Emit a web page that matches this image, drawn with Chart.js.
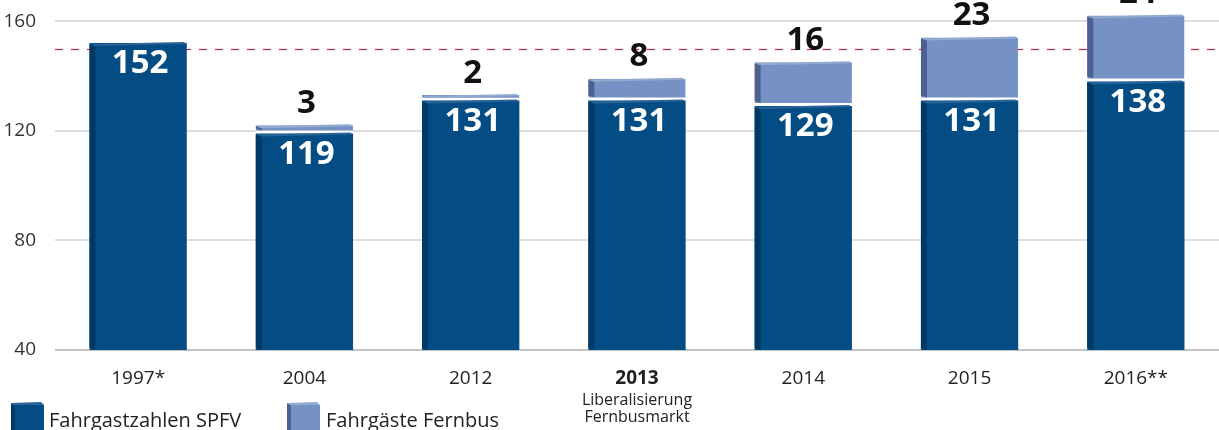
<!DOCTYPE html>
<html>
<head>
<meta charset="utf-8">
<script src="https://cdn.jsdelivr.net/npm/chart.js@4/dist/chart.umd.min.js"></script>
<style>
  html, body { margin: 0; padding: 0; background: #fff; }
  #wrap { width: 1219px; height: 430px; }
</style>
</head>
<body>
<div id="wrap"><canvas id="chart" width="1219" height="430"></canvas></div>
<script>
// ——— data ———
const years = ["1997*", "2004", "2012", "2013", "2014", "2015", "2016**"];
const spfv = [152, 119, 131, 131, 129, 131, 138];      // Fahrgastzahlen SPFV
const fernbus = [null, 3, 2, 8, 16, 23, 24];           // Fahrgäste Fernbus
const yTicks = [40, 80, 120, 160];
const refLine = 150;
const noteIndex = 3;
const noteLines = ["Liberalisierung", "Fernbusmarkt"];

const FONT = "'Open Sans', 'DejaVu Sans', sans-serif";
const navy = { front: "#044d84", side: "#003866", top: "#2a6398" };
const blue = { front: "#7691c3", side: "#4d6190", top: "#93a9d2" };

// dashed reference line behind the bars
const refLinePlugin = {
  id: "refLine",
  beforeDatasetsDraw(chart) {
    const { ctx, chartArea } = chart;
    const y = Math.round(chart.scales.y.getPixelForValue(refLine));
    ctx.save();
    ctx.strokeStyle = "#c02a40";
    ctx.lineWidth = 1.2;
    ctx.setLineDash([8, 8]);
    ctx.beginPath();
    ctx.moveTo(chartArea.left, y + 0.5);
    ctx.lineTo(chartArea.right, y + 0.5);
    ctx.stroke();
    ctx.restore();
  }
};

// fake 3D: darker left face + lighter top edge, then value labels
const barDeco = {
  id: "barDeco",
  afterDatasetsDraw(chart) {
    const ctx = chart.ctx;
    const floor = chart.chartArea.bottom;
    chart.data.datasets.forEach((ds, di) => {
      const meta = chart.getDatasetMeta(di);
      const col = di === 0 ? navy : blue;
      meta.data.forEach((bar, i) => {
        if (ds.data[i] == null) return;
        const { x, y, base, width } = bar.getProps(["x", "y", "base", "width"], true);
        const left = x - width / 2, right = x + width / 2;
        const bottom = di === 1 ? base - 3 : Math.min(base, floor);
        ctx.save();
        ctx.fillStyle = col.side;
        ctx.beginPath();
        ctx.moveTo(left, y + 1);
        ctx.lineTo(left + 6, y + 3);
        ctx.lineTo(left + 6, bottom);
        ctx.lineTo(left, bottom - 2);
        ctx.closePath();
        ctx.fill();
        ctx.fillStyle = col.top;
        ctx.beginPath();
        ctx.moveTo(left, y + 1);
        ctx.lineTo(right - 3, y - 1);
        ctx.lineTo(right, y + 1);
        ctx.lineTo(left + 6, y + 3);
        ctx.closePath();
        ctx.fill();

        ctx.font = "bold 33px " + FONT;
        ctx.textAlign = "center";
        ctx.textBaseline = "middle";
        if (di === 0) {
          ctx.fillStyle = "#fff";
          ctx.fillText(ds.data[i], x + 2, y + 21);
        } else {
          ctx.fillStyle = "#111";
          ctx.fillText(ds.data[i], x + 2, y - 22);
        }
        ctx.restore();
      });
    });
  }
};

// note under 2013 + legend with little cubes
function cube(ctx, x, y, w, h, col) {
  ctx.fillStyle = col.front;
  ctx.fillRect(x + 4, y + 3, w - 4, h);
  ctx.fillStyle = col.side;
  ctx.beginPath();
  ctx.moveTo(x, y + 1); ctx.lineTo(x + 4, y + 3); ctx.lineTo(x + 4, y + h + 3); ctx.lineTo(x, y + h);
  ctx.closePath(); ctx.fill();
  ctx.fillStyle = col.top;
  ctx.beginPath();
  ctx.moveTo(x, y + 1); ctx.lineTo(x + w - 3, y); ctx.lineTo(x + w, y + 3); ctx.lineTo(x + 4, y + 3);
  ctx.closePath(); ctx.fill();
}

const extras = {
  id: "extras",
  afterDraw(chart) {
    const ctx = chart.ctx;
    const xs = chart.scales.x;
    const cx = xs.getPixelForValue(noteIndex);
    ctx.save();
    ctx.fillStyle = "#222";
    ctx.font = "16px " + FONT;
    ctx.textAlign = "center";
    ctx.textBaseline = "middle";
    noteLines.forEach((t, k) => ctx.fillText(t, cx, 400 + k * 17));

    cube(ctx, 11, 402, 33, 30, navy);
    cube(ctx, 287, 402, 33, 30, blue);
    ctx.fillStyle = "#222";
    ctx.font = "20px " + FONT;
    ctx.textAlign = "left";
    ctx.textBaseline = "alphabetic";
    ctx.fillText("Fahrgastzahlen SPFV", 49, 427);
    ctx.fillText("Fahrgäste Fernbus", 326, 427);
    ctx.restore();
  }
};

new Chart(document.getElementById("chart"), {
  type: "bar",
  data: {
    labels: years,
    datasets: [
      {
        label: "Fahrgastzahlen SPFV",
        data: spfv,
        backgroundColor: navy.front,
        borderWidth: 0
      },
      {
        label: "Fahrgäste Fernbus",
        data: fernbus,
        backgroundColor: blue.front,
        borderColor: "#fff",
        borderWidth: { top: 0, left: 0, right: 0, bottom: 3 },
        borderSkipped: false
      }
    ]
  },
  options: {
    responsive: false,
    animation: false,
    layout: { padding: 0 },
    datasets: { bar: { barPercentage: 0.585, categoryPercentage: 1 } },
    plugins: { legend: { display: false }, tooltip: { enabled: false } },
    scales: {
      x: {
        stacked: true,
        grid: { display: false, drawTicks: false },
        border: { display: false },
        ticks: {
          color: "#222",
          padding: 17,
          maxRotation: 0,
          font: ctx => ({ family: FONT, size: 19, weight: ctx.index === noteIndex ? "bold" : "normal" })
        },
        afterFit: s => { s.height = 80; s.paddingLeft = 0; s.paddingRight = 0; }
      },
      y: {
        stacked: true,
        min: 40,
        max: 167.7,
        grid: {
          color: ctx => ctx.tick && ctx.tick.value === 40 ? "#c4c4c4" : "#dedede",
          lineWidth: 2,
          drawTicks: false
        },
        border: { display: false },
        ticks: {
          stepSize: 40,
          color: "#333",
          padding: 19,
          font: { family: FONT, size: 19 }
        },
        afterBuildTicks: s => { s.ticks = yTicks.map(v => ({ value: v })); },
        afterFit: s => { s.width = 55; s.paddingTop = 0; s.paddingBottom = 0; }
      }
    }
  },
  plugins: [refLinePlugin, barDeco, extras]
});
</script>
</body>
</html>
